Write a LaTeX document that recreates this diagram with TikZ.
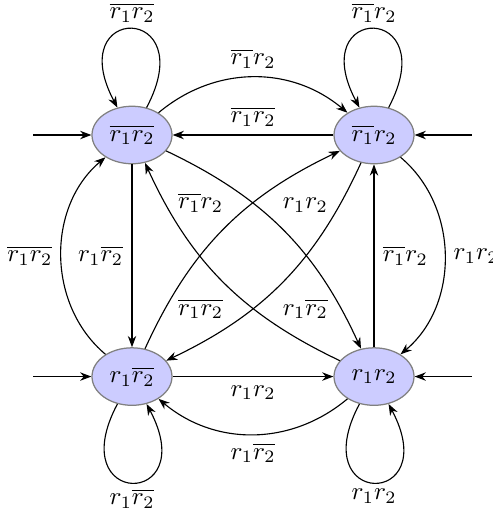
\documentclass[tikz,border=0pt]{standalone}
\usepackage{amsmath,amssymb}
\usetikzlibrary{arrows.meta,positioning,shapes.geometric}
\tikzset{
  state/.style ={ellipse,draw=gray,fill=blue!20,line width=.5pt,
                 minimum width=32pt,minimum height=23pt,inner sep=1pt},
  a/.style     ={-{Stealth[length=4.5pt]},line width=.45pt,black},
  ll/.style    ={inner sep=2.3pt},
}

\begin{document}
\begin{tikzpicture}[node distance=6mm]
  \useasboundingbox (-52.8pt,-153.2pt) rectangle (144.4pt,54pt);

  % --- states ---
  \node[state] (nn) {$\overline{r_1r_2}$};
  \node[state,right=22.6mm of nn] (np) {$\overline{r_1}r_2$};
  \node[state,below=25.7mm of nn] (pn) {$r_1\overline{r_2}$};
  \node[state,below=25.7mm of np] (pp) {$r_1r_2$};

  % --- initial arrows ---
  \coordinate[left=8.2mm of nn] (nnin);
  \coordinate[right=8mm of np] (npin);
  \coordinate[left=8.2mm of pn] (pnin);
  \coordinate[right=8mm of pp] (ppin);
  \draw[a] (nnin) -- (nn);
  \draw[a] (npin) -- (np);
  \draw[a] (pnin) -- (pn);
  \draw[a] (ppin) -- (pp);

  % --- self loops ---
  \draw[a] (nn.62) .. controls +(62:47.5pt) and +(118:47.5pt) .. (nn.118)
        node[midway,above,ll]{$\overline{r_1r_2}$};
  \draw[a] (np.62) .. controls +(62:47.5pt) and +(118:47.5pt) .. (np.118)
        node[midway,above,ll]{$\overline{r_1}r_2$};
  \draw[a] (pn.242) .. controls +(242:47.5pt) and +(298:47.5pt) .. (pn.298)
        node[midway,below,ll]{$r_1\overline{r_2}$};
  \draw[a] (pp.242) .. controls +(242:47.5pt) and +(298:47.5pt) .. (pp.298)
        node[midway,below,ll]{$r_1r_2$};

  % --- outer edges ---
  \draw[a] (nn) to[bend left=40] node[above]{$\overline{r_1}r_2$} (np);
  \draw[a] (np) -- node[above]{$\overline{r_1r_2}$} (nn);
  \draw[a] (nn) -- node[left]{$r_1\overline{r_2}$} (pn);
  \draw[a] (pn) to[bend left=50] node[left]{$\overline{r_1r_2}$} (nn);
  \draw[a] (pn) -- node[below]{$r_1r_2$} (pp);
  \draw[a] (pp) to[bend left=40] node[below]{$r_1\overline{r_2}$} (pn);
  \draw[a] (pp) -- node[right]{$\overline{r_1}r_2$} (np);
  \draw[a] (np) to[bend left=50] node[right]{$r_1r_2$} (pp);

  % --- diagonals ---
  \draw[a] (nn) to[bend left=20] node[pos=.45,above right]{$r_1r_2$} (pp);
  \draw[a] (pp) to[bend left=20] node[pos=.45,below left]{$\overline{r_1r_2}$} (nn);
  \draw[a] (pn) to[bend left=20] node[pos=.55,above left]{$\overline{r_1}r_2$} (np);
  \draw[a] (np) to[bend left=20] node[pos=.55,below right]{$r_1\overline{r_2}$} (pn);
\end{tikzpicture}
\end{document}
